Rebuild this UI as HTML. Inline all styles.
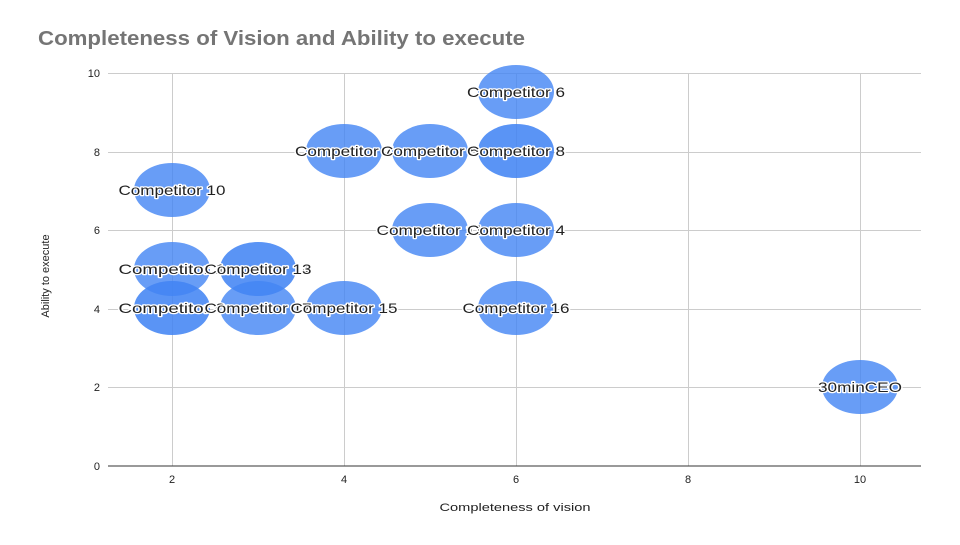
<!DOCTYPE html>
<html><head><style>body{margin:0;background:#fff}</style></head><body>
<svg width="960" height="540" xmlns="http://www.w3.org/2000/svg" font-family="Liberation Sans, Arial, sans-serif">
<rect width="960" height="540" fill="#fff"/>
<text x="38" y="45" font-size="20" font-weight="bold" fill="#757575" textLength="487" lengthAdjust="spacingAndGlyphs">Completeness of Vision and Ability to execute</text>
<g stroke="#cccccc" stroke-width="1">
<line x1="108" y1="73.5" x2="921" y2="73.5"/>
<line x1="108" y1="152.5" x2="921" y2="152.5"/>
<line x1="108" y1="230.5" x2="921" y2="230.5"/>
<line x1="108" y1="309.5" x2="921" y2="309.5"/>
<line x1="108" y1="387.5" x2="921" y2="387.5"/>
<line x1="172.5" y1="73" x2="172.5" y2="466"/>
<line x1="344.5" y1="73" x2="344.5" y2="466"/>
<line x1="516.5" y1="73" x2="516.5" y2="466"/>
<line x1="688.5" y1="73" x2="688.5" y2="466"/>
<line x1="860.5" y1="73" x2="860.5" y2="466"/>
</g>
<line x1="108" y1="466" x2="921" y2="466" stroke="#333" stroke-width="1"/>
<g font-size="11" fill="#222" text-anchor="end">
<text x="100" y="77">10</text><text x="100" y="156">8</text><text x="100" y="234">6</text><text x="100" y="313">4</text><text x="100" y="391">2</text><text x="100" y="470">0</text>
</g>
<g font-size="11" fill="#222" text-anchor="middle">
<text x="172" y="483">2</text><text x="344" y="483">4</text><text x="516" y="483">6</text><text x="688" y="483">8</text><text x="860" y="483">10</text>
<text x="515" y="511" textLength="151" lengthAdjust="spacingAndGlyphs">Completeness of vision</text>
</g>
<text transform="translate(49,276) rotate(-90)" font-size="11" fill="#222" text-anchor="middle">Ability to execute</text>
<g fill="#4285f4" fill-opacity="0.8">
<ellipse cx="516" cy="92" rx="38" ry="27"/>
<ellipse cx="344" cy="151" rx="38" ry="27"/>
<ellipse cx="430" cy="151" rx="38" ry="27"/>
<ellipse cx="516" cy="151" rx="38" ry="27"/>
<ellipse cx="516" cy="151" rx="38" ry="27" fill-opacity="0.35"/>
<ellipse cx="172" cy="190" rx="38" ry="27"/>
<ellipse cx="430" cy="230" rx="38" ry="27"/>
<ellipse cx="516" cy="230" rx="38" ry="27"/>
<ellipse cx="172" cy="269" rx="38" ry="27"/>
<ellipse cx="258" cy="269" rx="38" ry="27"/>
<ellipse cx="258" cy="269" rx="38" ry="27" fill-opacity="0.35"/>
<ellipse cx="172" cy="308" rx="38" ry="27"/>
<ellipse cx="172" cy="308" rx="38" ry="27" fill-opacity="0.35"/>
<ellipse cx="258" cy="308" rx="38" ry="27"/>
<ellipse cx="344" cy="308" rx="38" ry="27"/>
<ellipse cx="516" cy="308" rx="38" ry="27"/>
<ellipse cx="860" cy="387" rx="38" ry="27"/>
</g>
<g font-size="14" fill="#222" text-anchor="middle" stroke="#fff" stroke-width="2.5" paint-order="stroke" stroke-linejoin="round" lengthAdjust="spacingAndGlyphs">
<text x="516" y="97" textLength="98" lengthAdjust="spacingAndGlyphs">Competitor 6</text>
<text x="344" y="156" textLength="98" lengthAdjust="spacingAndGlyphs">Competitor 7</text>
<text x="430" y="156" textLength="98" lengthAdjust="spacingAndGlyphs">Competitor 5</text>
<text x="516" y="156" textLength="98" lengthAdjust="spacingAndGlyphs">Competitor 8</text>
<text x="172" y="195" textLength="107" lengthAdjust="spacingAndGlyphs">Competitor 10</text>
<text x="430" y="235" textLength="107" lengthAdjust="spacingAndGlyphs">Competitor 11</text>
<text x="516" y="235" textLength="98" lengthAdjust="spacingAndGlyphs">Competitor 4</text>
<text x="172" y="274" textLength="107" lengthAdjust="spacingAndGlyphs">Competitor 1</text>
<text x="258" y="274" textLength="107" lengthAdjust="spacingAndGlyphs">Competitor 14</text>
<text x="258" y="274" textLength="107" lengthAdjust="spacingAndGlyphs">Competitor 13</text>
<text x="172" y="313" textLength="107" lengthAdjust="spacingAndGlyphs">Competitor 0</text>
<text x="258" y="313" textLength="107" lengthAdjust="spacingAndGlyphs">Competitor 17</text>
<text x="344" y="313" textLength="107" lengthAdjust="spacingAndGlyphs">Competitor 15</text>
<text x="516" y="313" textLength="107" lengthAdjust="spacingAndGlyphs">Competitor 16</text>
<text x="860" y="392" textLength="84" lengthAdjust="spacingAndGlyphs">30minCEO</text>
</g>
</svg>
</body></html>
